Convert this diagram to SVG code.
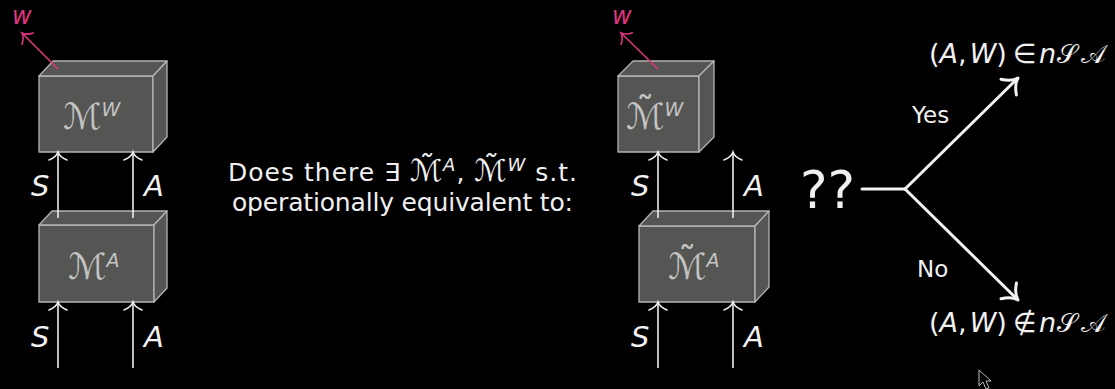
<svg xmlns="http://www.w3.org/2000/svg" width="1115" height="389" viewBox="0 0 1115 389">
<style>
.box{fill:#555653;stroke:#b4b4b4;stroke-width:1.3;stroke-linejoin:round}
.blab{fill:#c4c4c4;font-family:"DejaVu Sans","Noto Sans",sans-serif;font-size:36px}
.sup{font-size:19px;font-style:italic}
.wire{stroke:#ececec;stroke-width:1.6;fill:none;marker-end:url(#ah)}
.pw{stroke:#e0357f;stroke-width:1.6;fill:none;marker-end:url(#ahp)}
.big{stroke:#f2f2f2;stroke-width:3;fill:none;stroke-linecap:round}
.lab{fill:#f2f2f2;font-family:"DejaVu Sans","Noto Sans",sans-serif;font-size:29px;font-style:italic}
.txt{fill:#f0f0f0;font-family:"DejaVu Sans","Noto Sans",sans-serif;font-size:25px}
.math{fill:#f0f0f0;font-family:"DejaVu Sans","Noto Sans",sans-serif;font-size:27px}
.it{font-style:italic}
.scr{font-size:26px}
.pink{fill:#e0357f;font-family:"DejaVu Sans","Noto Sans",sans-serif;font-size:24px;font-style:italic}
</style>
<defs>
<marker id="ah" markerUnits="userSpaceOnUse" viewBox="-12 -12 16 24" markerWidth="16" markerHeight="24" refX="0" refY="0" orient="auto">
<path d="M -8 -9 C -6 -4 -3 -1 0 0 C -3 1 -6 4 -8 9" fill="none" stroke="#ececec" stroke-width="1.6" stroke-linecap="round"/>
</marker>
<marker id="ahp" markerUnits="userSpaceOnUse" viewBox="-12 -12 16 24" markerWidth="16" markerHeight="24" refX="0" refY="0" orient="auto">
<path d="M -8 -8 C -6 -4 -3 -1 0 0 C -3 1 -6 4 -8 8" fill="none" stroke="#e0357f" stroke-width="1.6" stroke-linecap="round"/>
</marker>
<marker id="ahb" markerUnits="userSpaceOnUse" viewBox="-18 -14 22 28" markerWidth="22" markerHeight="28" refX="0" refY="0" orient="auto">
<path d="M -13 -11 C -9 -5 -4 -1 0 0 C -4 1 -9 5 -13 11" fill="none" stroke="#f2f2f2" stroke-width="3" stroke-linecap="round"/>
</marker>
</defs>
<rect x="0" y="0" width="1115" height="389" fill="#000"/>

<g id="MW">
<rect class="box" x="39" y="76" width="114" height="76"/>
<polygon class="box" points="39,76 53,61 167,61 153,76"/>
<polygon class="box" points="153,76 167,61 167,137 153,152"/>
<text class="blab" x="63" y="129">ℳ<tspan class="sup" dy="-13">W</tspan></text>
</g>
<g id="MA">
<rect class="box" x="39" y="225" width="115" height="77"/>
<polygon class="box" points="39,225 52,211 167,211 154,225"/>
<polygon class="box" points="154,225 167,211 167,288 154,302"/>
<text class="blab" x="68" y="279">ℳ<tspan class="sup" dy="-12">A</tspan></text>
</g>
<g id="tMW">
<rect class="box" x="618" y="76" width="81" height="76"/>
<polygon class="box" points="618,76 633,61 714,61 699,76"/>
<polygon class="box" points="699,76 714,61 714,137 699,152"/>
<text class="blab" x="626" y="129">ℳ̃<tspan class="sup" dy="-13">W</tspan></text>
</g>
<g id="tMA">
<rect class="box" x="639" y="226" width="116" height="76"/>
<polygon class="box" points="639,226 653,211 769,211 755,226"/>
<polygon class="box" points="755,226 769,211 769,287 755,302"/>
<text class="blab" x="668" y="279">ℳ̃<tspan class="sup" dy="-12">A</tspan></text>
</g>

<g id="connectors">
<line class="wire" x1="58" y1="218" x2="58" y2="152"/>
<line class="wire" x1="133" y1="218" x2="133" y2="152"/>
<line class="wire" x1="58" y1="368" x2="58" y2="302"/>
<line class="wire" x1="133" y1="368" x2="133" y2="302"/>
<line class="pw" x1="58" y1="69" x2="22" y2="33"/>
<line class="wire" x1="658" y1="218" x2="658" y2="152"/>
<line class="wire" x1="733" y1="218" x2="733" y2="152"/>
<line class="wire" x1="658" y1="368" x2="658" y2="302"/>
<line class="wire" x1="733" y1="368" x2="733" y2="302"/>
<line class="pw" x1="658" y1="69" x2="621" y2="33"/>
<line class="big" x1="862" y1="189" x2="905" y2="189"/>
<line class="big" x1="905" y1="189" x2="1018" y2="78" marker-end="url(#ahb)"/>
<line class="big" x1="905" y1="189" x2="1018" y2="300" marker-end="url(#ahb)"/>
</g>

<g id="labels">
<text class="pink" x="12" y="24">w</text>
<text class="pink" x="612" y="24">w</text>
<text class="lab" x="31" y="196">S</text>
<text class="lab" x="144" y="196">A</text>
<text class="lab" x="31" y="347">S</text>
<text class="lab" x="144" y="347">A</text>
<text class="lab" x="631" y="196">S</text>
<text class="lab" x="744" y="196">A</text>
<text class="lab" x="631" y="347">S</text>
<text class="lab" x="744" y="347">A</text>
<text class="txt" x="228" y="181" textLength="349" lengthAdjust="spacing">Does there ∃ <tspan class="it" style="font-size:30px">ℳ̃</tspan><tspan class="it" style="font-size:18px" dy="-10">A</tspan><tspan dy="10">, </tspan><tspan class="it" style="font-size:30px">ℳ̃</tspan><tspan class="it" style="font-size:18px" dy="-10">W</tspan><tspan dy="10"> s.t.</tspan></text>
<text class="txt" x="232" y="211" textLength="341" lengthAdjust="spacing">operationally equivalent to:</text>
<text class="txt" x="800" y="208" style="font-size:52px">??</text>
<text class="txt" x="912" y="123" style="font-size:23px">Yes</text>
<text class="txt" x="917" y="277" style="font-size:23px">No</text>
<text class="math" y="63"><tspan x="929">(</tspan><tspan class="it">A</tspan>,<tspan class="it" dx="3">W</tspan>)</text>
<text class="math" y="63"><tspan x="1013">∈</tspan><tspan class="it" x="1039">n</tspan><tspan class="scr" x="1057">𝒮</tspan><tspan class="scr" x="1081">𝒜</tspan></text>
<text class="math" y="332"><tspan x="929">(</tspan><tspan class="it">A</tspan>,<tspan class="it" dx="3">W</tspan>)</text>
<text class="math" y="332"><tspan x="1013">∉</tspan><tspan class="it" x="1039">n</tspan><tspan class="scr" x="1057">𝒮</tspan><tspan class="scr" x="1081">𝒜</tspan></text>
</g>
<polygon points="979,370 979,386 983,382 986,389 989,388 986,381 991,381" fill="#000" stroke="#bbbbbb" stroke-width="1"/>
</svg>
